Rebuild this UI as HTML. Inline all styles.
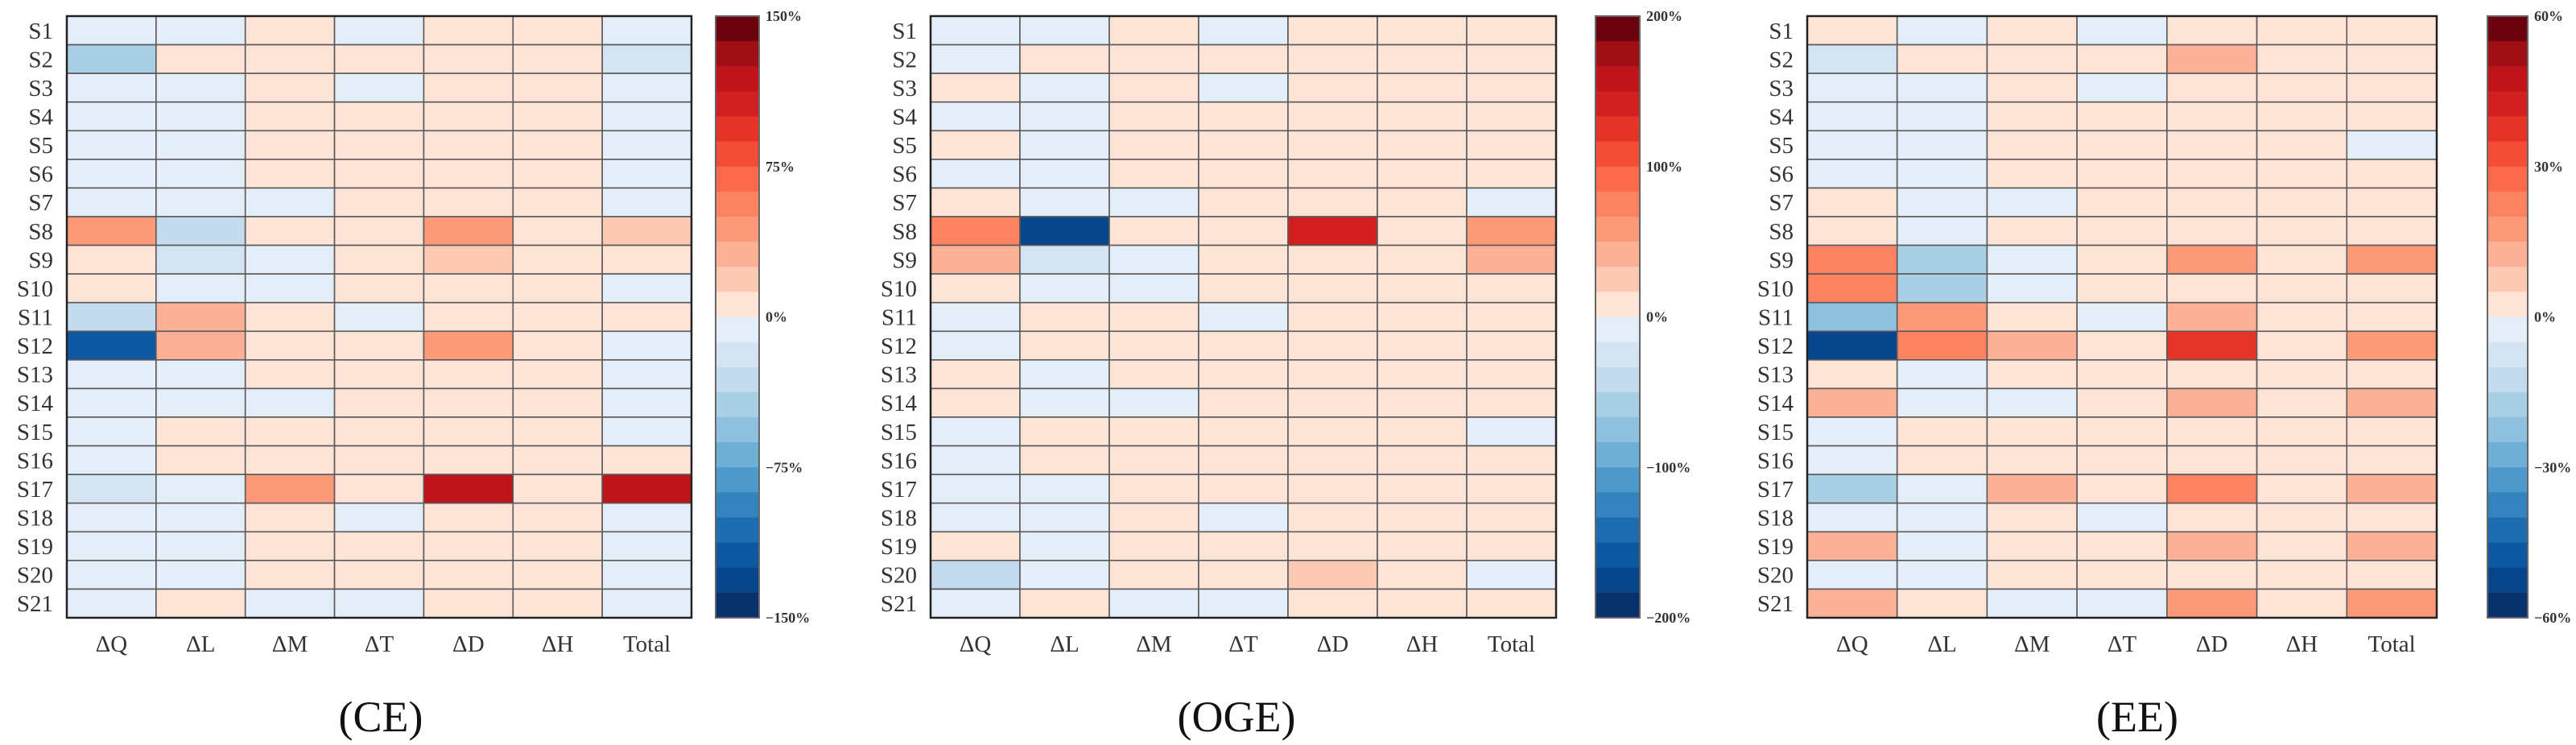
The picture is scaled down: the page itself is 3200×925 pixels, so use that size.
<!DOCTYPE html>
<html><head><meta charset="utf-8"><style>
html,body{margin:0;padding:0;background:#fff;}
svg{display:block;}
</style></head><body>
<svg id="chart" width="3200" height="925" viewBox="0 0 3200 925" xmlns="http://www.w3.org/2000/svg"></svg>
<script>
const rowLabels = ["S1","S2","S3","S4","S5","S6","S7","S8","S9","S10","S11","S12","S13","S14","S15","S16","S17","S18","S19","S20","S21"];
const colLabels = ["\u0394Q","\u0394L","\u0394M","\u0394T","\u0394D","\u0394H","Total"];
const panelNames = ["CE","OGE","EE"];
const panelMax = [150, 200, 60];
const tickLabelsCE = ["150%","75%","0%","\u221275%","\u2212150%"];
const tickLabelsOGE = ["200%","100%","0%","\u2212100%","\u2212200%"];
const tickLabelsEE = ["60%","30%","0%","\u221230%","\u221260%"];
const valuesCE = [
[-5,-5,5,-5,5,5,-5],
[-45,5,5,5,5,5,-20],
[-5,-5,5,-5,5,5,-5],
[-5,-5,5,5,5,5,-5],
[-5,-5,5,5,5,5,-5],
[-5,-5,5,5,5,5,-5],
[-5,-5,-5,5,5,5,-5],
[42,-30,5,5,42,5,22],
[5,-20,-5,5,22,5,5],
[5,-5,-5,5,5,5,-5],
[-30,35,5,-5,5,5,5],
[-120,35,5,5,50,5,-5],
[-5,-5,5,5,5,5,-5],
[-5,-5,-5,5,5,5,-5],
[-5,5,5,5,5,5,-5],
[-5,5,5,5,5,5,5],
[-20,-5,38,5,120,5,120],
[-5,-5,5,-5,5,5,-5],
[-5,-5,5,5,5,5,-5],
[-5,-5,5,5,5,5,-5],
[-5,5,-5,-5,5,5,-5]];
const valuesOGE = [
[-5,-5,5,-5,5,5,5],
[-5,5,5,5,5,5,5],
[5,-5,5,-5,5,5,5],
[-5,-5,5,5,5,5,5],
[5,-5,5,5,5,5,5],
[-5,-5,5,5,5,5,5],
[5,-5,-5,5,5,5,-5],
[75,-180,5,5,140,5,60],
[40,-25,-5,5,5,5,35],
[5,-5,-5,5,5,5,5],
[-5,5,5,-5,5,5,5],
[-5,5,5,5,5,5,5],
[5,-5,5,5,5,5,5],
[5,-5,-5,5,5,5,5],
[-5,5,5,5,5,5,-5],
[-5,5,5,5,5,5,5],
[-5,-5,5,5,5,5,5],
[-5,-5,5,-5,5,5,5],
[5,-5,5,5,5,5,5],
[-35,-5,5,5,25,5,-15],
[-5,5,-5,-5,5,5,5]];
const valuesEE = [
[2,-2,2,-2,2,2,2],
[-8,2,2,2,12,2,2],
[-2,-2,2,-2,2,2,2],
[-2,-2,2,2,2,2,2],
[-2,-2,2,2,2,2,-2],
[-2,-2,2,2,2,2,2],
[2,-2,-2,2,2,2,2],
[2,-2,2,2,2,2,2],
[23,-18,-2,2,17,2,17],
[23,-18,-2,2,2,2,2],
[-22,18,2,-2,12,2,2],
[-53,22,12,2,38,2,17],
[2,-2,2,2,2,2,2],
[12,-2,-2,2,12,2,12],
[-2,2,2,2,2,2,2],
[-2,2,2,2,2,2,2],
[-18,-2,12,2,23,2,12],
[-2,-2,2,-2,2,2,2],
[12,-2,2,2,12,2,12],
[-2,-2,2,2,2,2,2],
[12,2,-2,-2,16,2,20]];
const allValues = [valuesCE, valuesOGE, valuesEE];
const allTicks = [tickLabelsCE, tickLabelsOGE, tickLabelsEE];

const reds = ["#fde4d7","#fcc9b3","#fcb096","#fc9979","#fc8262","#fb6a4a","#f44d37","#e63328","#d21f20","#bf151a","#9f0e13","#6c010e"];
const blues = ["#e4eef8","#d4e4f3","#c4dbee","#a9cfe5","#8fc1de","#6eafd6","#4d99ca","#3483bf","#1f6db1","#0d58a1","#08468b","#08306b"];
const layout = [
  {gl:83, gr:859, cb0:889, cb1:943, cap:473},
  {gl:1156, gr:1933, cb0:1982, cb1:2037, cap:1536},
  {gl:2245, gr:3027, cb0:3090, cb1:3140, cap:2655}
];
const TOP = 20, BOT = 767;
const NS = "http://www.w3.org/2000/svg";
const svg = document.getElementById("chart");
function mk(tag, attrs, parent){
  const e = document.createElementNS(NS, tag);
  for (const k in attrs) e.setAttribute(k, attrs[k]);
  (parent||svg).appendChild(e);
  return e;
}
function colorFor(v, max){
  let lvl = Math.ceil(Math.abs(v)/max*12);
  lvl = Math.max(1, Math.min(12, lvl));
  return v >= 0 ? reds[lvl-1] : blues[lvl-1];
}
layout.forEach((L, p) => {
  const vals = allValues[p], max = panelMax[p], ticks = allTicks[p];
  const g = mk("g", {});
  
  
  const nC = colLabels.length, nR = rowLabels.length;
  const cw = (L.gr - L.gl)/nC, rh = (BOT - TOP)/nR;
  const xScale = c => L.gl + c*cw;
  const yScale = r => TOP + r*rh;
  vals.forEach((row, r) => row.forEach((v, c) => {
    const rect = mk("rect", {x:xScale(c), y:yScale(r), width:cw, height:rh, fill:colorFor(v,max), stroke:"#5a5a5a", "stroke-width":1.6}, g);
    
    
  }));
  const border = mk("rect", {x:L.gl, y:TOP, width:L.gr-L.gl, height:BOT-TOP, fill:"none", stroke:"#222", "stroke-width":2.5}, g);
  
  
  rowLabels.forEach((lab, r) => {
    const t = mk("text", {x:L.gl-17, y:yScale(r)+rh/2+10, "text-anchor":"end", "font-family":"Liberation Serif, serif", "font-size":29, fill:"#333"}, g);
    t.textContent = lab;
    
    
  });
  colLabels.forEach((lab, c) => {
    const t = mk("text", {x:xScale(c)+cw/2, y:809, "text-anchor":"middle", "font-family":"Liberation Serif, serif", "font-size":29, fill:"#333"}, g);
    t.textContent = lab;
    
    
  });
  const segH = (BOT - TOP)/24;
  for (let i = 0; i < 24; i++){
    const col = i < 12 ? reds[11-i] : blues[i-12];
    const s = mk("rect", {x:L.cb0, y:TOP+i*segH, width:L.cb1-L.cb0, height:segH+0.5, fill:col}, g);
    
    
  }
  const cbb = mk("rect", {x:L.cb0, y:TOP, width:L.cb1-L.cb0, height:BOT-TOP, fill:"none", stroke:"#666", "stroke-width":2}, g);
  
  
  ticks.forEach((lab, i) => {
    const t = mk("text", {x:L.cb1+8, y:TOP + i*(BOT-TOP)/4 + 6, "font-family":"Liberation Serif, serif", "font-size":18, "font-weight":"bold", fill:"#333"}, g);
    t.textContent = lab;
    
    
  });
  const cap = mk("text", {x:L.cap, y:908, "text-anchor":"middle", "font-family":"Liberation Serif, serif", "font-size":54, fill:"#111"}, g);
  cap.textContent = "(" + panelNames[p] + ")";
  
  
});
</script>
</body></html>
